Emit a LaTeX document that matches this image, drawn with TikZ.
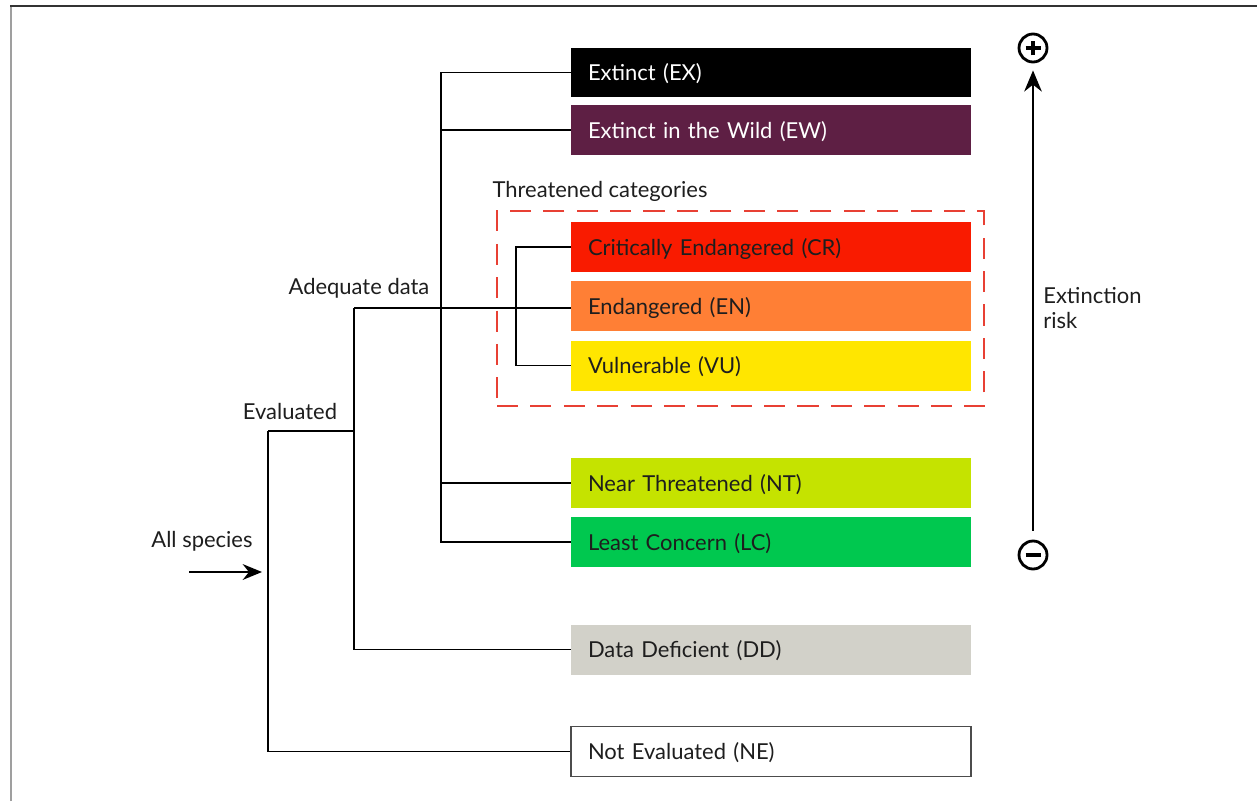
\documentclass[tikz,border=0pt]{standalone}
\usepackage{fontspec}
\setmainfont{Lato}
\usetikzlibrary{arrows.meta}
\definecolor{cEW}{RGB}{94,31,68}
\definecolor{cCR}{RGB}{249,27,0}
\definecolor{cEN}{RGB}{255,127,53}
\definecolor{cVU}{RGB}{255,230,0}
\definecolor{cNT}{RGB}{197,227,0}
\definecolor{cLC}{RGB}{0,200,79}
\definecolor{cDD}{RGB}{210,209,201}
\definecolor{cTxt}{RGB}{30,30,30}
\definecolor{cDash}{RGB}{232,64,52}
\tikzset{
  cat/.style={rectangle, minimum width=8cm, minimum height=1cm, text width=7.32cm,
    inner xsep=0.34cm, align=left, font=\fontsize{12.5}{14}\selectfont, text=cTxt,
    text height=1.9ex, text depth=0ex},
  conn/.style={line width=1.1pt, black},
  lbl/.style={font=\fontsize{12.5}{14}\selectfont, text=cTxt, inner sep=0pt},
  sign/.style={circle, draw=black, line width=1.6pt, minimum size=0.56cm, inner sep=0pt},
}
\begin{document}
\begin{tikzpicture}[x=0.02cm, y=-0.02cm]
\useasboundingbox (0,0) rectangle (1257,801);
% frame
\draw[gray!75, line width=1.7pt] (11,801) -- (11,6);
\draw[black!80, line width=1.1pt] (10,6) -- (1257,6);
% category boxes
\node[cat, fill=black, text=white] (ex) at (771,72.5) {Extinct (EX)};
\node[cat, fill=cEW, text=white] (ew) at (771,130) {Extinct in the Wild (EW)};
\node[cat, fill=cCR] (cr) at (771,247) {Critically Endangered (CR)};
\node[cat, fill=cEN] (en) at (771,306) {Endangered (EN)};
\node[cat, fill=cVU] (vu) at (771,365.5) {Vulnerable (VU)};
\node[cat, fill=cNT] (nt) at (771,483) {Near Threatened (NT)};
\node[cat, fill=cLC] (lc) at (771,542) {Least Concern (LC)};
\node[cat, fill=cDD] (dd) at (771,649.5) {Data Deficient (DD)};
\node[cat, fill=white, draw=black!70, line width=0.8pt] (ne) at (771,751.5) {Not Evaluated (NE)};
% threatened box
\node[draw=cDash, line width=1.6pt, dash pattern=on 12pt off 7pt, minimum width=487*0.02cm, minimum height=195*0.02cm, inner sep=0pt] (thr) at (740.5,308.5) {};
\node[lbl] (thrl) at (600,191) {Threatened categories};
% junction coordinates
\coordinate (topx) at (441,0);
\coordinate (thx) at (516,0);
\coordinate (adq) at (354,308);
\coordinate (evl) at (268,431);
% connectors
\draw[conn] (ex.west) -- (ex.west -| topx) -- (lc.west -| topx) -- (lc.west);
\draw[conn] (ew.west -| topx) -- (ew.west);
\draw[conn] (nt.west -| topx) -- (nt.west);
\draw[conn] (cr.west) -- (cr.west -| thx) -- (vu.west -| thx) -- (vu.west);
\draw[conn] (adq) -- (adq -| en.west);
\draw[conn] (adq) -- (adq |- dd.west) -- (dd.west);
\draw[conn] (evl) -- (evl -| adq);
\draw[conn] (evl) -- (evl |- ne.west) -- (ne.west);
% labels
\node[lbl] (adql) at (359,288) {Adequate data};
\node[lbl] (evll) at (290,411) {Evaluated};
\node[lbl] (alll) at (202,541) {All species};
% all species arrow
\coordinate (as0) at (189,572);
\coordinate (as1) at (262,572);
\draw[conn, -{Stealth[length=11pt, width=9pt]}] (as0) -- (as1);
% extinction risk axis
\node[sign] (plus) at (1033,48) {};
\draw[line width=1.8pt] ([xshift=-0.15cm]plus.center) -- ([xshift=0.15cm]plus.center)
  ([yshift=-0.15cm]plus.center) -- ([yshift=0.15cm]plus.center);
\node[sign] (minus) at (1033,555) {};
\draw[line width=1.8pt] ([xshift=-0.15cm]minus.center) -- ([xshift=0.15cm]minus.center);
\draw[line width=1.3pt, -{Stealth[length=12pt, width=10pt]}, shorten <=5pt, shorten >=4pt] (minus.north) -- (plus.south);
\node[lbl, align=left, anchor=north west] (risk) at (1043,287) {Extinction\\risk};
\end{tikzpicture}
\end{document}
